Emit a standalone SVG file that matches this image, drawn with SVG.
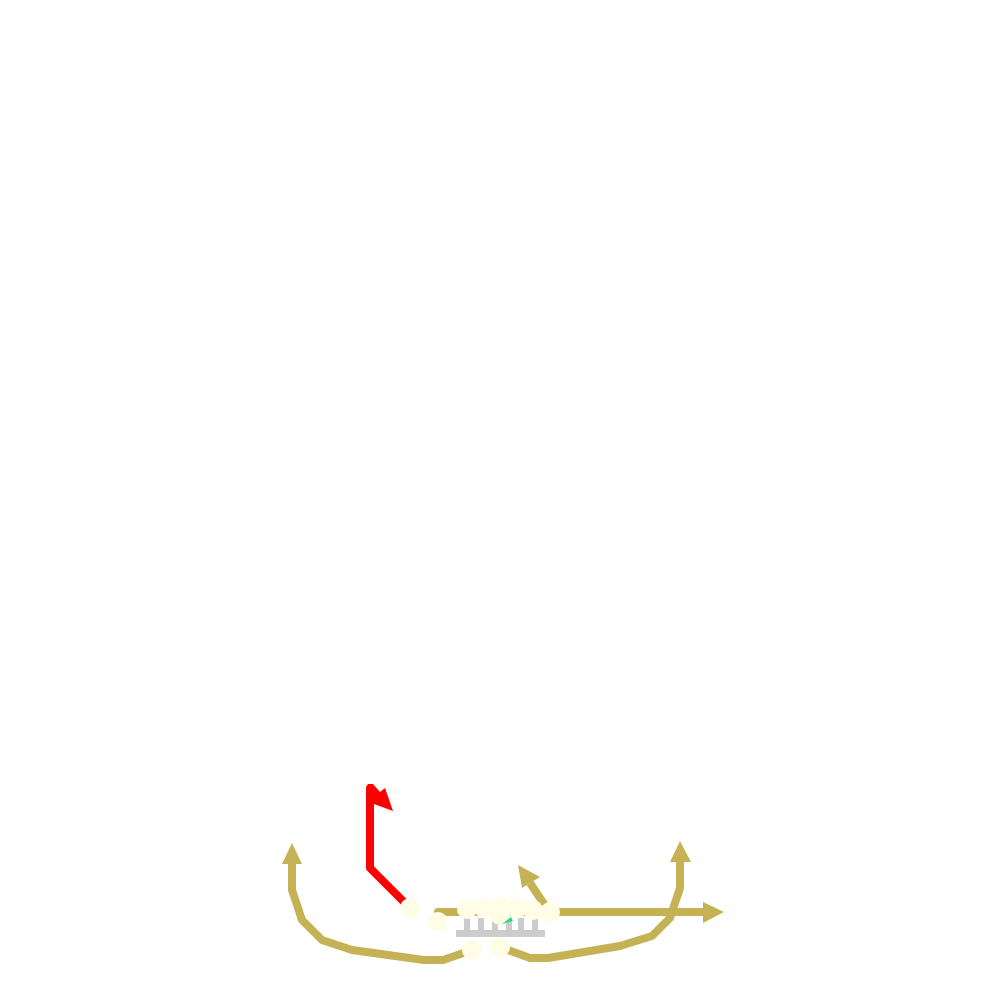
<svg xmlns="http://www.w3.org/2000/svg" width="1000" height="1000" viewBox="0 0 1000 1000">
<style>
.route{fill:none;stroke:#c4b254;stroke-width:8;stroke-linejoin:round;stroke-linecap:butt}
.head{fill:#c4b254}
.red{fill:none;stroke:#ff0000;stroke-width:8;stroke-linejoin:round}
.player{fill:#fffde6}
.line{fill:#cccccc}
</style>
<rect width="1000" height="1000" fill="#ffffff"/>
<g id="connectors">
<path class="route" d="M472,950 L443,960 L424,960 L352,950 L322,940 L302,920 L292,890 L292,862"/>
<polygon class="head" points="292,843 302,864 282,864"/>
<path class="route" d="M500,947 L530,958 L548,958 L620,946 L652,936 L670,918 L680,888 L680,860"/>
<polygon class="head" points="680,841 691,862 670,862"/>
<path class="route" d="M438,922 L438,912 L705,912"/>
<polygon class="head" points="724,912 703,902 703,923"/>
<path class="route" d="M548,910 L530,883"/>
<polygon class="head" points="518,865 540,877 522,888"/>
<path class="red" d="M410,908 L370,868 L370,790"/>
<polygon fill="#ff0000" points="366,787 368,784 373,784 380,792 385,788 393,811 374,804 374,800 366,800"/>
</g>
<g id="line-blocks">
<rect class="line" x="456" y="930" width="89" height="7"/>
<rect class="line" x="464" y="918" width="6" height="13"/>
<rect class="line" x="478" y="918" width="6" height="13"/>
<rect class="line" x="492" y="918" width="6" height="13"/>
<rect class="line" x="506" y="918" width="6" height="13"/>
<rect class="line" x="518" y="918" width="6" height="13"/>
<rect class="line" x="532" y="918" width="6" height="13"/>
</g>
<g id="players">
<circle id="p1" class="player" cx="410" cy="908" r="10"/>
<circle id="p2" class="player" cx="438" cy="922" r="10"/>
<circle id="p3" class="player" cx="467" cy="909" r="10"/>
<circle id="p4" class="player" cx="484" cy="908" r="10"/>
<circle id="p5" class="player" cx="500" cy="907" r="10"/>
<circle id="p6" class="player" cx="517" cy="908" r="10"/>
<circle id="p7" class="player" cx="533" cy="910" r="10"/>
<circle id="p8" class="player" cx="550" cy="912" r="10"/>
<circle id="p9" class="player" cx="500" cy="915" r="10"/>
<circle id="p10" class="player" cx="472" cy="950" r="10"/>
<circle id="p11" class="player" cx="500" cy="947" r="10"/>
<polygon id="ball" fill="#22dd88" points="502,924 511,917 513,921"/>
</g>
</svg>
